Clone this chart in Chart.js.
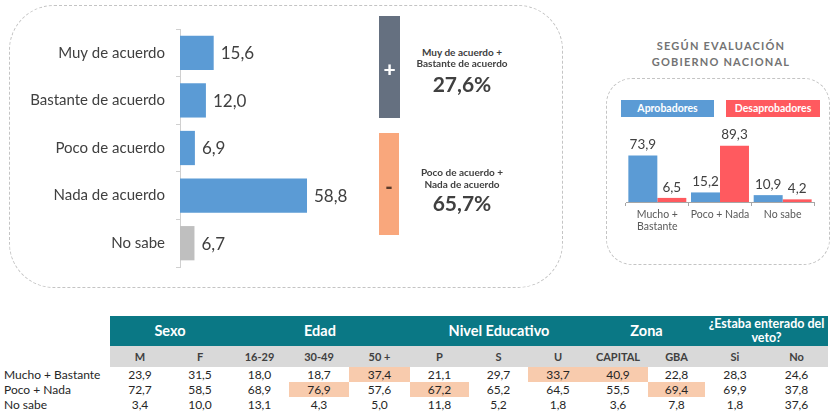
<!DOCTYPE html>
<html><head><meta charset="utf-8">
<script src="https://cdn.jsdelivr.net/npm/chart.js@4.4.1/dist/chart.umd.min.js"></script>
<style>
html,body{margin:0;padding:0;background:#fff}
body{width:833px;height:417px;position:relative;overflow:hidden;font-family:Lato,"DejaVu Sans",sans-serif;color:#404040}
.a{position:absolute;white-space:nowrap}
.box{position:absolute;border:1.2px dashed #c4c4c4;box-sizing:border-box}
.c{text-align:center}
</style></head><body>
<div class="box" style="left:9px;top:5px;width:554px;height:283px;border-radius:45px"></div>
<div class="box" style="left:606px;top:78px;width:224px;height:187px;border-radius:26px"></div>
<canvas id="c1" class="a" width="400" height="290" style="left:0;top:0;width:400px;height:290px"></canvas>
<div class="a" style="left:379px;top:16px;width:21px;height:102px;background:#657080"></div>
<div class="a" style="left:379px;top:133px;width:20px;height:102px;background:#F9A77C"></div>
<div id="plus" class="a c" style="left:379px;top:57px;width:21px;height:24px;line-height:24px;font-size:21px;font-weight:900;color:#fff"></div>
<div id="minus" class="a c" style="left:379px;top:174px;width:20px;height:24px;line-height:24px;font-size:20px;font-weight:900;color:#5a3a2a"></div>
<div id="summary"></div>
<div id="title"></div>
<div id="legend"></div>
<canvas id="c2" class="a" width="224" height="120" style="left:606px;top:120px;width:224px;height:120px"></canvas>
<div id="table"></div>
<script>
// ---------- DATA ----------
const agreeCategories = ['Muy de acuerdo', 'Bastante de acuerdo', 'Poco de acuerdo', 'Nada de acuerdo', 'No sabe'];
const agreeValues = [15.6, 12.0, 6.9, 58.8, 6.7];

const summarySigns = ['+', '-'];
const summaryLabels = [['Muy de acuerdo +', 'Bastante de acuerdo'], ['Poco de acuerdo +', 'Nada de acuerdo']];
const summaryValues = [27.6, 65.7];

const govTitle = ['SEGÚN EVALUACIÓN', 'GOBIERNO NACIONAL'];
const govCategories = [['Mucho +', 'Bastante'], 'Poco + Nada', 'No sabe'];
const govSeries = ['Aprobadores', 'Desaprobadores'];
const approversValues = [73.9, 15.2, 10.9];
const disapproversValues = [6.5, 89.3, 4.2];

const tableGroups = ['Sexo', 'Edad', 'Nivel Educativo', 'Zona', '¿Estaba enterado del veto?'];
const tableGroupSpans = [2, 3, 3, 2, 2];
const tableColumns = ['M', 'F', '16-29', '30-49', '50 +', 'P', 'S', 'U', 'CAPITAL', 'GBA', 'Si', 'No'];
const tableRowLabels = ['Mucho + Bastante', 'Poco + Nada', 'No sabe'];
const rowMuchoBastante = [23.9, 31.5, 18.0, 18.7, 37.4, 21.1, 29.7, 33.7, 40.9, 22.8, 28.3, 24.6];
const rowPocoNada = [72.7, 58.5, 68.9, 76.9, 57.6, 67.2, 65.2, 64.5, 55.5, 69.4, 69.9, 37.8];
const rowNoSabe = [3.4, 10.0, 13.1, 4.3, 5.0, 11.8, 5.2, 1.8, 3.6, 7.8, 1.8, 37.6];
const highlightMucho = ['50 +', 'U', 'CAPITAL'];
const highlightPoco = ['30-49', 'P', 'GBA'];

// ---------- helpers ----------
const fmt = v => v.toFixed(1).replace('.', ',');
const FONT = 'Lato, "DejaVu Sans", sans-serif';

function el(parent, html, style) {
  const d = document.createElement('div');
  d.className = 'a';
  d.style.cssText = style;
  d.innerHTML = html;
  (parent || document.body).appendChild(d);
  return d;
}

// ---------- signs and summary ----------
document.getElementById('plus').textContent = summarySigns[0];
document.getElementById('minus').textContent = summarySigns[1];
const sumCenters = [[52, 63, 84], [172, 184, 203]];
summaryLabels.forEach((lines, i) => {
  const ys = sumCenters[i];
  lines.forEach((t, j) => el(null, t, `left:400px;width:124px;text-align:center;top:${ys[j]-7}px;height:14px;line-height:14px;font-size:10px;font-weight:700;color:#404040`));
  el(null, fmt(summaryValues[i]) + '%', `left:400px;width:124px;text-align:center;top:${ys[2]-13}px;height:26px;line-height:26px;font-size:21px;font-weight:700;color:#404040`);
});

// ---------- right title & legend ----------
govTitle.forEach((t, j) => el(null, t, `left:620px;width:202px;text-align:center;top:${[46,62][j]-8}px;height:16px;line-height:16px;font-size:11px;font-weight:700;letter-spacing:1.2px;color:#737373`));
const legColors = ['#5B9BD5', '#FF5A5F'];
const legBoxes = [[621, 93], [726, 94]];
govSeries.forEach((s, i) => el(null, s, `left:${legBoxes[i][0]}px;top:100px;width:${legBoxes[i][1]}px;height:17px;line-height:17px;text-align:center;background:${legColors[i]};color:#fff;font-size:10.5px;font-weight:700`));

// ---------- left chart ----------
const hLabelPlugin = {
  id: 'hlabels',
  afterDatasetsDraw(chart) {
    const ctx = chart.ctx;
    const meta = chart.getDatasetMeta(0);
    ctx.save();
    ctx.font = '17px ' + FONT;
    ctx.fillStyle = '#404040';
    ctx.textAlign = 'left';
    ctx.textBaseline = 'middle';
    meta.data.forEach((b, i) => ctx.fillText(fmt(chart.data.datasets[0].data[i]), b.x + 7, b.y + 1));
    ctx.restore();
  }
};
new Chart(document.getElementById('c1'), {
  type: 'bar',
  data: {
    labels: agreeCategories,
    datasets: [{
      data: agreeValues,
      backgroundColor: agreeCategories.map((c, i) => i === agreeCategories.length - 1 ? '#BFBFBF' : '#5B9BD5'),
      barPercentage: 0.72,
      categoryPercentage: 1
    }]
  },
  options: {
    indexAxis: 'y', responsive: false, animation: false,
    layout: { padding: { top: 29, bottom: 23, right: 4, left: 0 } },
    plugins: { legend: { display: false }, tooltip: { enabled: false } },
    scales: {
      x: { display: false, min: 0, max: 100 },
      y: {
        afterFit: s => { s.width = 180; },
        grid: { drawOnChartArea: false, tickLength: 4, color: '#D0D0D0', offset: true },
        border: { color: '#D0D0D0' },
        ticks: { color: '#404040', font: { family: FONT, size: 15 }, padding: 11 }
      }
    }
  },
  plugins: [hLabelPlugin]
});

// ---------- right chart ----------
const vLabelPlugin = {
  id: 'vlabels',
  afterDatasetsDraw(chart) {
    const ctx = chart.ctx;
    ctx.save();
    ctx.font = '13.5px ' + FONT;
    ctx.fillStyle = '#404040';
    ctx.textAlign = 'center';
    ctx.textBaseline = 'bottom';
    chart.data.datasets.forEach((ds, di) => {
      chart.getDatasetMeta(di).data.forEach((b, i) => ctx.fillText(fmt(ds.data[i]), b.x, b.y - 4));
    });
    ctx.restore();
  }
};
new Chart(document.getElementById('c2'), {
  type: 'bar',
  data: {
    labels: govCategories,
    datasets: [
      { label: govSeries[0], data: approversValues, backgroundColor: legColors[0], barPercentage: 1, categoryPercentage: 0.925 },
      { label: govSeries[1], data: disapproversValues, backgroundColor: legColors[1], barPercentage: 1, categoryPercentage: 0.925 }
    ]
  },
  options: {
    responsive: false, animation: false,
    layout: { padding: { top: 19, left: 20, right: 16, bottom: 0 } },
    plugins: { legend: { display: false }, tooltip: { enabled: false } },
    scales: {
      y: { display: false, min: 0, max: 100 },
      x: {
        afterFit: s => { s.height = 38; },
        grid: { drawOnChartArea: false, tickLength: 4, color: '#A6A6A6', offset: true },
        border: { color: '#A6A6A6' },
        ticks: { color: '#595959', font: { family: FONT, size: 10.5 }, padding: 2, maxRotation: 0 }
      }
    }
  },
  plugins: [vLabelPlugin]
});

// ---------- table ----------
const colEdges = [110, 170, 230, 289, 349, 410, 469, 528, 588, 648, 705, 765, 828];
const tbl = document.getElementById('table');
el(tbl, '', 'left:110px;top:316px;width:718px;height:30px;background:#0A7885');
el(tbl, '', 'left:110px;top:346px;width:718px;height:21px;background:#D9D9D9');
let ci = 0;
tableGroups.forEach((g, gi) => {
  const l = colEdges[ci], r = colEdges[ci + tableGroupSpans[gi]];
  ci += tableGroupSpans[gi];
  const twoLine = g.length > 20;
  const html = twoLine ? g.replace(' veto?', '<br>veto?') : g;
  el(tbl, html, `left:${l}px;top:316px;width:${r-l}px;height:30px;display:flex;align-items:center;justify-content:center;text-align:center;color:#fff;font-weight:700;font-size:${twoLine ? 12.5 : 14.5}px;line-height:${twoLine ? 14 : 16}px;white-space:nowrap`);
});
tableColumns.forEach((c, i) => {
  const l = colEdges[i], w = colEdges[i + 1] - l;
  el(tbl, c, `left:${l}px;top:346px;width:${w}px;height:21px;line-height:21px;text-align:center;font-size:11px;font-weight:700;color:#404040`);
});
const rows = [rowMuchoBastante, rowPocoNada, rowNoSabe];
const hl = [highlightMucho, highlightPoco, []];
const rowTops = [367, 382, 397];
rows.forEach((vals, r) => {
  el(tbl, tableRowLabels[r], `left:4px;top:${rowTops[r]}px;height:15px;line-height:15px;font-size:12px;color:#262626`);
  vals.forEach((v, i) => {
    const l = colEdges[i], w = colEdges[i + 1] - l;
    const bg = hl[r].includes(tableColumns[i]) ? 'background:#F8CBAD;' : '';
    el(tbl, fmt(v), `${bg}left:${l}px;top:${rowTops[r]}px;width:${w}px;height:15px;line-height:15px;text-align:center;font-size:12px;color:#262626`);
  });
});
</script>
</body></html>
